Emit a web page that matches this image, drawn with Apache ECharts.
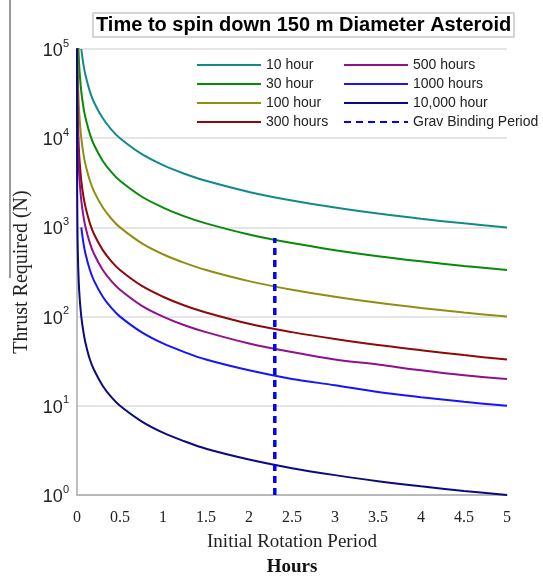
<!DOCTYPE html>
<html>
<head>
<meta charset="utf-8">
<script src="https://cdn.jsdelivr.net/npm/echarts@6/dist/echarts.min.js"></script>
<style>html,body{margin:0;padding:0;background:#fff}#c{width:543px;height:577px}</style>
</head>
<body>
<div id="c"></div>
<script>
// Initial rotation period (hours)
const periods = [0.00005, 0.0001, 0.001, 0.002, 0.005, 0.01, 0.02, 0.03, 0.05, 0.075, 0.1, 0.15, 0.2, 0.3, 0.4, 0.5, 0.75, 1, 1.25, 1.5, 2, 2.5, 3, 3.5, 4, 4.5, 5];
// Thrust required (N) for each spin-down time
const thrust10h    = [null, null, null, null, null, null, null, null, 100000, 66700, 50000, 33300, 25000, 16700, 12500, 10000, 6670, 5000, 4000, 3330, 2500, 2000, 1670, 1430, 1250, 1110, 1000];
const thrust30h    = [null, null, null, null, null, 166700, 83300, 55600, 33300, 22200, 16700, 11100, 8330, 5560, 4170, 3330, 2220, 1670, 1330, 1110, 833, 667, 556, 476, 417, 370, 333];
const thrust100h   = [null, null, null, null, 100000, 50000, 25000, 16700, 10000, 6670, 5000, 3330, 2500, 1670, 1250, 1000, 667, 500, 400, 333, 250, 200, 167, 143, 125, 111, 100];
const thrust300h   = [null, null, 166700, 83300, 33300, 16700, 8330, 5560, 3330, 2220, 1670, 1110, 833, 556, 417, 333, 222, 167, 133, 111, 83, 67, 56, 48, 42, 37, 33];
const thrust500h   = [null, null, 100000, 50000, 20000, 10000, 5000, 3330, 2000, 1330, 1000, 667, 500, 333, 250, 200, 133, 100, 80, 67, 50, 40, 33, 29, 25, 22, 20];
const thrust1000h  = [null, null, null, null, null, null, null, null, 1000, 667, 500, 333, 250, 167, 125, 100, 67, 50, 40, 33, 25, 20, 17, 14.3, 12.5, 11.1, 10];
const thrust10000h = [100000, 50000, 5000, 2500, 1000, 500, 250, 167, 100, 67, 50, 33, 25, 16.7, 12.5, 10, 6.7, 5, 4, 3.3, 2.5, 2, 1.67, 1.43, 1.25, 1.11, 1];
// Gravitational binding period marker
const bindingPeriod = [2.3, 2.3];
const bindingThrust = [1, 760];

const seriesNames = ['10 hour', '30 hour', '100 hour', '300 hours', '500 hours', '1000 hours', '10,000 hour', 'Grav Binding Period'];
const seriesValues = [thrust10h, thrust30h, thrust100h, thrust300h, thrust500h, thrust1000h, thrust10000h];
const colors = ['#138a8a', '#078a07', '#8f8f12', '#8e0a0a', '#8f118f', '#1515ff', '#0b0b80', '#0000ff'];

const series = seriesValues.map((vals, i) => ({
  name: seriesNames[i],
  type: 'line',
  data: periods.map((p, j) => [p, vals[j]]),
  showSymbol: false,
  symbol: 'none',
  smooth: 0.35,
  clip: true,
  lineStyle: { color: colors[i], width: 2 },
  itemStyle: { color: colors[i] },
  z: 3
}));
series.push({
  name: seriesNames[7],
  type: 'line',
  data: bindingPeriod.map((p, j) => [p, bindingThrust[j]]),
  showSymbol: false,
  symbol: 'none',
  lineStyle: { color: colors[7], width: 3.5, type: [7, 5] },
  itemStyle: { color: colors[7] },
  z: 4
});

const legendBase = {
  orient: 'vertical', top: 58,
  itemWidth: 64, itemHeight: 14, itemGap: 5, padding: 0,
  itemStyle: { opacity: 0 },
  textStyle: { fontFamily: 'Liberation Sans, Arial, sans-serif', fontSize: 14, color: '#222' }
};

const chart = echarts.init(document.getElementById('c'));
chart.setOption({
  animation: false,
  backgroundColor: '#fff',
  title: {
    text: 'Time to spin down 150 m Diameter Asteroid',
    left: 93, top: 13,
    padding: [2, 3],
    borderColor: '#c8c8c8', borderWidth: 1.5,
    textStyle: { fontFamily: 'Liberation Sans, Arial, sans-serif', fontWeight: 'bold', fontSize: 20, color: '#000' }
  },
  grid: { left: 77, right: 36, top: 49, bottom: 82, containLabel: false, outerBoundsMode: 'none' },
  legend: [
    Object.assign({ data: seriesNames.slice(0, 4), left: 196 }, legendBase),
    Object.assign({ data: seriesNames.slice(4), left: 343 }, legendBase)
  ],
  xAxis: {
    type: 'value', min: 0, max: 5, interval: 0.5,
    name: '{a|Initial Rotation Period}\n{b|Hours}',
    nameLocation: 'middle', nameGap: 35,
    nameTextStyle: {
      rich: {
        a: { fontFamily: 'Liberation Serif, Times New Roman, serif', fontSize: 19, color: '#222', lineHeight: 25 },
        b: { fontFamily: 'Liberation Serif, Times New Roman, serif', fontSize: 19, fontWeight: 'bold', color: '#111', lineHeight: 25 }
      }
    },
    axisLine: { show: true, lineStyle: { color: '#aaa', width: 1.5 } },
    axisTick: { show: false },
    splitLine: { show: false },
    axisLabel: { margin: 15, fontFamily: 'Liberation Serif, Times New Roman, serif', fontSize: 16, color: '#222' }
  },
  yAxis: {
    type: 'log', logBase: 10, min: 1, max: 100000,
    name: 'Thrust Required (N)',
    nameLocation: 'middle', nameGap: 43,
    nameTextStyle: { fontFamily: 'Liberation Serif, Times New Roman, serif', fontSize: 20, color: '#222' },
    axisLine: { show: true, lineStyle: { color: '#aaa', width: 1.5 } },
    axisTick: { show: false },
    splitLine: { show: true, lineStyle: { color: '#dcdcdc', width: 1.5 } },
    axisLabel: {
      margin: 8,
      formatter: v => '{b|10}{s|' + Math.round(Math.log10(v)) + '}',
      rich: {
        b: { fontFamily: 'Liberation Sans, Arial, sans-serif', fontSize: 18, color: '#222', lineHeight: 22, verticalAlign: 'bottom' },
        s: { fontFamily: 'Liberation Sans, Arial, sans-serif', fontSize: 11, color: '#222', lineHeight: 12, verticalAlign: 'top' }
      }
    }
  },
  graphic: [
    { type: 'line', shape: { x1: 10, y1: 0, x2: 10, y2: 278 }, style: { stroke: '#777', lineWidth: 1.5 } }
  ],
  series: series
});
</script>
</body>
</html>
